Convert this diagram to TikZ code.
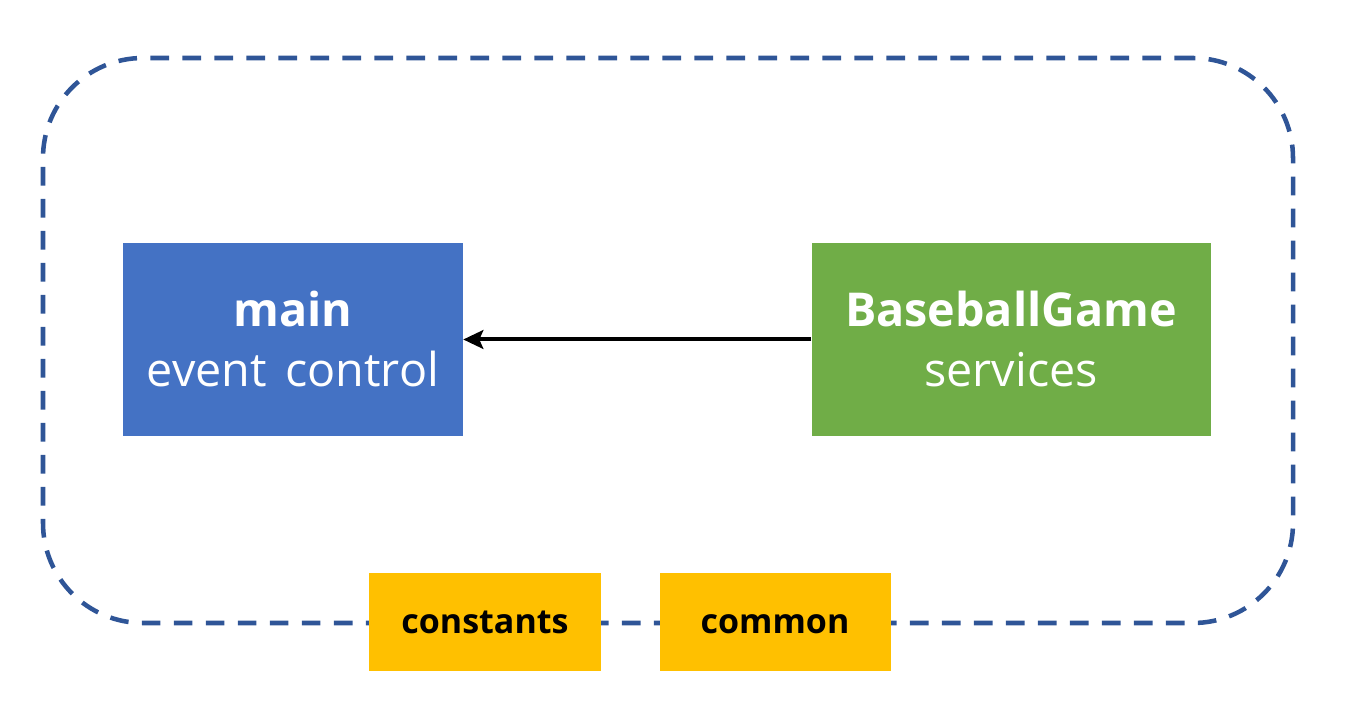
\documentclass[tikz,border=0pt]{standalone}
\usepackage{xcolor}
\usepackage{fontspec}
\setmainfont{Open Sans}
\usetikzlibrary{arrows.meta,positioning}

\definecolor{mainblue}{HTML}{4472C4}
\definecolor{servgreen}{HTML}{70AD47}
\definecolor{libyellow}{HTML}{FFC000}
\definecolor{framenavy}{HTML}{2F5597}

\begin{document}
\begin{tikzpicture}[x=0.75pt,y=-0.75pt,>={Stealth[length=15pt,width=14pt,inset=3pt]},
            node distance=261pt]
        \tikzstyle{module}=[rectangle,minimum height=144.75pt,text=white,
            font=\fontsize{35}{45}\selectfont,align=center,inner sep=0pt]
        \tikzstyle{lib}=[rectangle,fill=libyellow,minimum width=174pt,minimum height=73.5pt,
            text=black,font=\fontsize{25.5}{30}\selectfont\bfseries,inner sep=0pt,
            text height=19pt,text depth=2pt]
        \tikzstyle{frame}=[draw=framenavy,line width=3.4pt,rounded corners=75pt,
            dash pattern=on 14pt off 10pt,minimum width=937.5pt,minimum height=423.75pt]

        \useasboundingbox (0,0) rectangle (1355,712);

        \node[frame] (app) at (668,340.5) {};

        \node[module,fill=mainblue,minimum width=255pt] (main) at (293,339.5)
            {\textbf{main}\\event\hspace{0.4em}control};
        \node[module,fill=servgreen,minimum width=299.25pt] (game) [right=of main]
            {\textbf{BaseballGame}\\services};

        \node[lib] (constants) at (485,622) {constants};
        \node[lib,minimum width=173.25pt] (common) [right=43.5pt of constants] {common};

        \path[->,draw=black,line width=3pt] (game) edge (main);
    \end{tikzpicture}
\end{document}
